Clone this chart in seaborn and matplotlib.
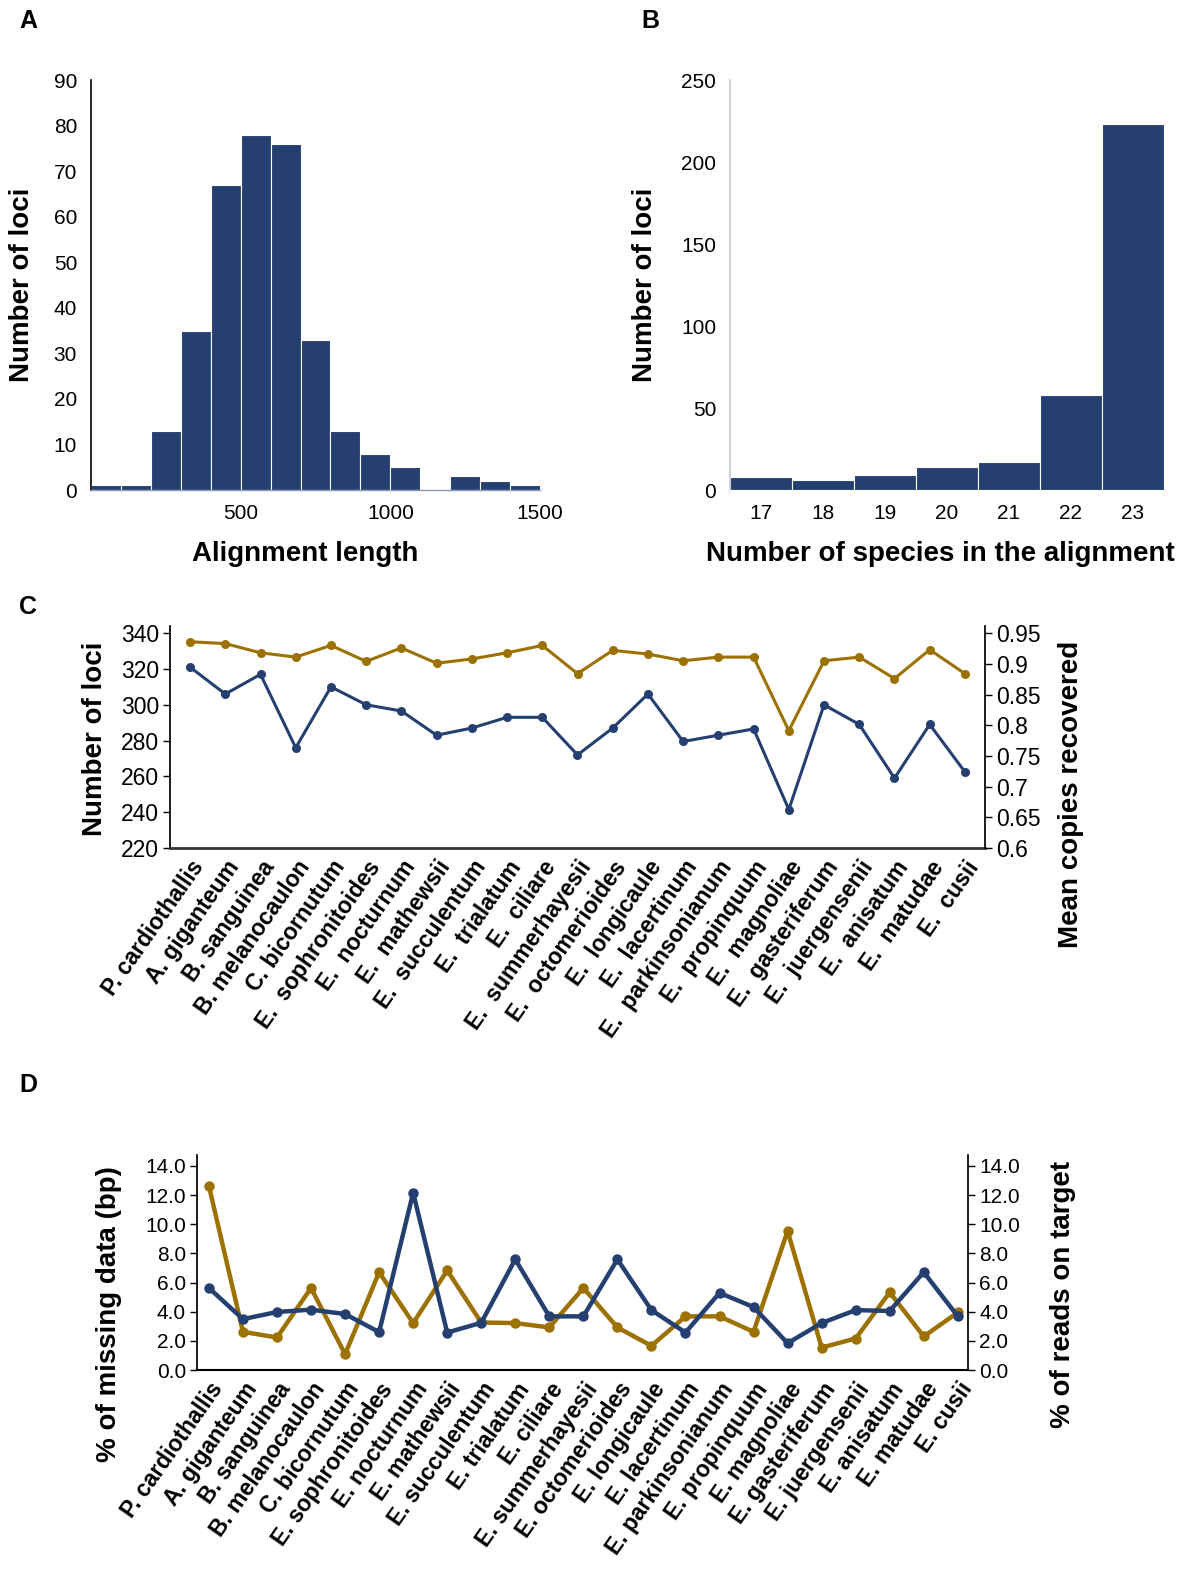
import numpy as np
import matplotlib
matplotlib.use("Agg")
import matplotlib.pyplot as plt
import seaborn as sns

sns.set_theme(style="white")
plt.rcParams['font.family'] = ['Liberation Sans', 'DejaVu Sans']
plt.rcParams['text.color'] = 'black'
plt.rcParams['axes.labelcolor'] = 'black'
plt.rcParams['xtick.color'] = 'black'
plt.rcParams['ytick.color'] = 'black'

NAVY = "#243f70"
GOLD = "#9c7100"

# A: alignment length histogram (bins of 100 bp)
len_edges = list(range(0, 1600, 100))
len_counts = [1, 1, 13, 35, 67, 78, 76, 33, 13, 8, 5, 0, 3, 2, 1]

# B: number of species in the alignment
n_species = [17, 18, 19, 20, 21, 22, 23]
species_counts = [8, 6, 9, 14, 17, 58, 223]

species = ["P. cardiothallis", "A. giganteum", "B. sanguinea", "B. melanocaulon",
           "C. bicornutum", "E. sophronitoides", "E. nocturnum", "E. mathewsii",
           "E. succulentum", "E. trialatum", "E. ciliare", "E. summerhayesii",
           "E. octomerioides", "E. longicaule", "E. lacertinum", "E. parkinsonianum",
           "E. propinquum", "E. magnoliae", "E. gasteriferum", "E. juergensenii",
           "E. anisatum", "E. matudae", "E. cusii"]

# C
loci = [321, 306, 317, 276, 310, 300, 296.5, 283, 287, 293, 293, 272, 287, 306,
        279.5, 283, 286.5, 241.5, 300, 289, 259, 289, 262.5]
copies = [0.936, 0.933, 0.918, 0.911, 0.930, 0.904, 0.926, 0.901, 0.908, 0.918,
          0.930, 0.884, 0.922, 0.916, 0.905, 0.911, 0.911, 0.791, 0.905, 0.911,
          0.876, 0.923, 0.884]

# D
missing = [5.63, 3.49, 3.98, 4.14, 3.84, 2.60, 12.16, 2.57, 3.24, 7.59, 3.68, 3.68,
           7.59, 4.11, 2.57, 5.29, 4.32, 1.84, 3.22, 4.11, 4.05, 6.71, 3.68]
on_target = [12.62, 2.62, 2.23, 5.63, 1.08, 6.71, 3.22, 6.83, 3.26, 3.22, 2.92, 5.63,
             2.92, 1.66, 3.68, 3.68, 2.62, 9.54, 1.54, 2.16, 5.33, 2.30, 3.95]

W, H = 1190, 1570
fig = plt.figure(figsize=(W / 100, H / 100), dpi=100)


def px_axes(left, top, right, bottom):
    return fig.add_axes([left / W, 1 - bottom / H, (right - left) / W, (bottom - top) / H])


TICK = 15
TICK_C = 16.5
LAB = 20
SPL = 16.5

# ---- A ----
axA = px_axes(91, 80, 540, 490)
centers = [(a + b) / 2 for a, b in zip(len_edges[:-1], len_edges[1:])]
sns.histplot(x=centers, weights=len_counts, bins=len_edges, color=NAVY, alpha=1,
             edgecolor="white", linewidth=0.8, ax=axA)
axA.set_xlim(0, 1500)
axA.set_ylim(0, 90)
axA.set_yticks(range(0, 91, 10))
axA.set_xticks([500, 1000, 1500])
for s in ["top", "right"]:
    axA.spines[s].set_visible(False)
axA.spines["left"].set_color("black")
axA.spines["left"].set_linewidth(1.2)
axA.spines["bottom"].set_color("#8a98b8")
axA.spines["bottom"].set_linewidth(1)
axA.tick_params(labelsize=TICK, length=0, pad=10)
axA.set_xlabel("Alignment length", fontsize=LAB, fontweight="bold")
axA.set_ylabel("Number of loci", fontsize=LAB, fontweight="bold")
axA.yaxis.set_label_coords(-0.125, 0.5)
axA.xaxis.set_label_coords(0.477, -0.125)

# ---- B ----
axB = px_axes(730, 80, 1164, 490)
sns.histplot(x=n_species, weights=species_counts, discrete=True, color=NAVY, alpha=1,
             edgecolor="white", linewidth=0.8, ax=axB)
axB.set_xlim(16.5, 23.5)
axB.set_ylim(0, 250)
axB.set_yticks(range(0, 251, 50))
axB.set_xticks(n_species)
for s in ["top", "right", "bottom"]:
    axB.spines[s].set_visible(False)
axB.spines["left"].set_color("#cccccc")
axB.tick_params(labelsize=TICK, length=0, pad=10)
axB.set_xlabel("Number of species in the alignment", fontsize=LAB, fontweight="bold")
axB.set_ylabel("Number of loci", fontsize=LAB, fontweight="bold")
axB.yaxis.set_label_coords(-0.166, 0.5)
axB.xaxis.set_label_coords(0.484, -0.125)

pos = np.arange(len(species))

# ---- C ----
axC = px_axes(170, 626, 985, 848)
sns.lineplot(x=pos, y=loci, ax=axC, color=NAVY, marker="o", markersize=6.5,
             markeredgewidth=0, linewidth=2.2, sort=False)
axC.set_ylim(220, 344)
axC.set_yticks(range(220, 341, 20))
axC.set_xlim(-0.57, 22.57)
axC2 = axC.twinx()
sns.lineplot(x=pos, y=copies, ax=axC2, color=GOLD, marker="o", markersize=6.5,
             markeredgewidth=0, linewidth=2.2, sort=False)
axC2.set_ylim(0.6, 0.6 + 0.35 * 124 / 120)
cticks = [0.6, 0.65, 0.7, 0.75, 0.8, 0.85, 0.9, 0.95]
axC2.set_yticks(cticks)
axC2.set_yticklabels([f"{v:g}" for v in cticks])
axC.set_xticks(pos)
axC.set_xticklabels([s.replace("E. ", "E.  ") for s in species], rotation=55,
                    ha="right", rotation_mode="anchor", fontsize=SPL, fontweight="bold")
for a in (axC, axC2):
    a.spines["top"].set_visible(False)
axC.spines["right"].set_visible(False)
axC2.spines["left"].set_visible(False)
axC2.spines["bottom"].set_visible(False)
axC.spines["bottom"].set_color("#333333")
axC.spines["bottom"].set_linewidth(2)
axC.spines["left"].set_color("black")
axC2.spines["right"].set_color("black")
axC.tick_params(axis="y", labelsize=TICK_C, left=True, length=5, width=1, color="black", pad=3)
axC.tick_params(axis="x", length=0, pad=6)
axC2.tick_params(axis="y", labelsize=TICK_C, right=True, length=5, width=1, color="black", pad=3)
axC.set_xlabel("")
axC.set_ylabel("Number of loci", fontsize=LAB, fontweight="bold")
axC.yaxis.set_label_coords(-0.076, 0.49)
axC2.set_ylabel("Mean copies recovered", fontsize=LAB, fontweight="bold")
axC2.yaxis.set_label_coords(1.09, 0.24)

# ---- D ----
axD = px_axes(197, 1155, 968, 1370)
sns.lineplot(x=pos, y=missing, ax=axD, color=NAVY, marker="o", markersize=7.5,
             markeredgewidth=0, linewidth=3.2, sort=False)
axD2 = axD.twinx()
sns.lineplot(x=pos, y=on_target, ax=axD2, color=GOLD, marker="o", markersize=7.5,
             markeredgewidth=0, linewidth=3.2, sort=False)
dticks = np.arange(0, 15, 2)
for a in (axD, axD2):
    a.set_ylim(0, 14.75)
    a.set_yticks(dticks)
    a.set_yticklabels([f"{v:.1f}" for v in dticks])
    a.spines["top"].set_visible(False)
axD.set_zorder(axD2.get_zorder() + 1)
axD.patch.set_visible(False)
axD.set_xlim(-0.35, 22.3)
axD.set_xticks(pos)
axD.set_xticklabels(species, rotation=55, ha="right", rotation_mode="anchor",
                    fontsize=SPL, fontweight="bold")
axD.spines["right"].set_visible(False)
axD2.spines["left"].set_visible(False)
axD2.spines["bottom"].set_visible(False)
axD.spines["bottom"].set_color("black")
axD.spines["bottom"].set_linewidth(1.5)
axD.spines["left"].set_color("black")
axD2.spines["right"].set_color("black")
axD.tick_params(axis="y", labelsize=TICK, left=True, length=5, width=1, color="black", pad=3)
axD.tick_params(axis="x", length=0, pad=6)
axD2.tick_params(axis="y", labelsize=TICK, right=True, length=5, width=1, color="black", pad=3)
axD.set_xlabel("")
axD.set_ylabel("% of missing data (bp)", fontsize=LAB, fontweight="bold")
axD.yaxis.set_label_coords(-0.097, 0.26)
axD2.set_ylabel("% of reads on target", fontsize=LAB, fontweight="bold")
axD2.yaxis.set_label_coords(1.106, 0.35)

for letter, x, y in [("A", 28, 21), ("B", 650, 21), ("C", 28, 607), ("D", 28, 1085)]:
    fig.text(x / W, 1 - y / H, letter, fontsize=18, fontweight="bold",
             ha="center", va="center")

fig.savefig("out.png", dpi=100)
